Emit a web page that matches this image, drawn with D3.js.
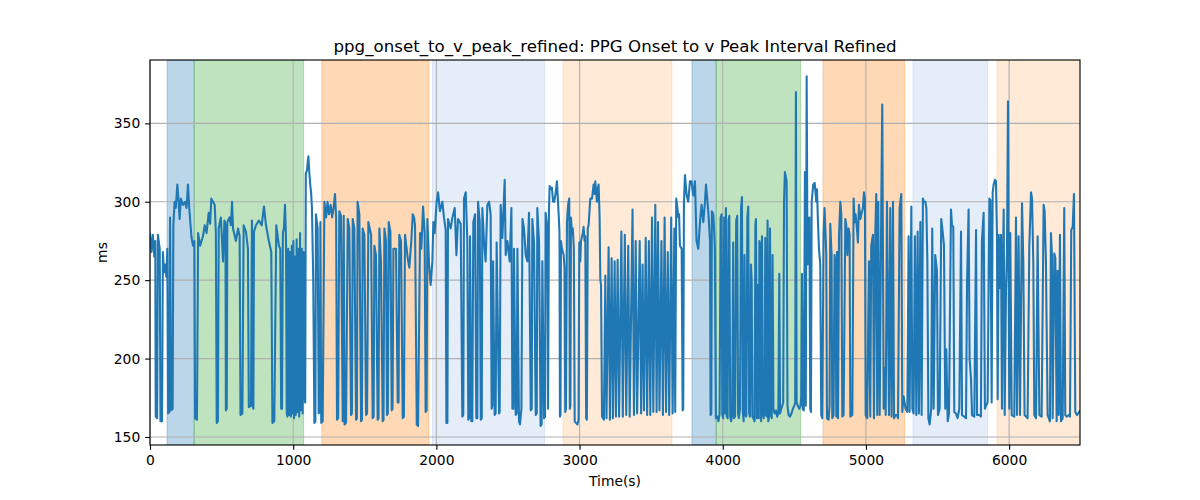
<!DOCTYPE html>
<html>
<head>
<meta charset="utf-8">
<script src="https://cdn.jsdelivr.net/npm/d3@7"></script>
<style>
  html, body { margin: 0; padding: 0; background: #fff; }
  svg { display: block; }
  text { font-family: "DejaVu Sans", sans-serif; fill: #000; }
</style>
</head>
<body>
<svg id="chart" width="1200" height="500"></svg>
<script>
// ---- data ----
const chartTitle = "ppg_onset_to_v_peak_refined: PPG Onset to v Peak Interval Refined";
const xLabel = "Time(s)";
const yLabel = "ms";
const xTicks = [0, 1000, 2000, 3000, 4000, 5000, 6000];
const yTicks = [150, 200, 250, 300, 350];

const bandStart = [119, 308, 1200, 1973, 2884, 3785, 3954, 4700, 5328, 5915];
const bandEnd   = [308, 1073, 1948, 2756, 3645, 3954, 4544, 5270, 5850, 6495];
const bandColor = ["#1f77b4", "#2ca02c", "#ff7f0e", "#7ea6e0", "#ff7f0e",
                   "#1f77b4", "#2ca02c", "#ff7f0e", "#7ea6e0", "#ff7f0e"];
const bandAlpha = [0.3, 0.3, 0.3, 0.2, 0.16, 0.3, 0.3, 0.3, 0.2, 0.16];

const timeSec = [
0,10,20,30,37,40,50,55,68,73,84,90,98,108,114,121,127,135,140,148,158,163,172,180,191,200,207,215,230,245,255,265,275,289,300,310,315,328,336,350,370,382,395,410,420,428,440,452,460,466,474,480,495,510,520,527,530,536,540,555,565,573,580,600,615,626,632,645,654,670,684,690,705,712,716,722,726,740,760,780,796,810,830,847,855,868,882,900,910,916,922,928,935,943,950,
955,960,965,972,978,984,990,996,1001,1006,1012,1018,1024,1030,1036,1042,1048,1054,1060,1066,1072,1078,1084,1088,1096,1106,1113,1120,1125,1131,1140,1148,1155,1159,1171,1178,1186,1190,1196,1206,1218,1230,1240,1250,1262,1272,1282,1292,1300,1306,1314,1322,1334,1346,1353,1359,1369,1381,1392,1404,1410,1416,1427,1439,1445,1450,1462,1474,1480,1485,1497,1509,1516,1525,1544,1555,1562,1567,1578,1590,1596,1602,1613,1625,1631,1637,1648,1655,1661,1667,1679,1688,1694,1700,1718,1730,1736,1741,1753,1765,1773,1781,1800,1811,1825,1835,
1844,1851,1863,1872,1886,1895,1907,1918,1925,1932,1937,1949,1960,1972,1979,1988,2002,2012,2025,2042,2053,2065,2070,2077,2081,2100,2112,2128,2140,2151,2170,2181,2188,2193,2205,2216,2223,2230,2235,2244,2251,2258,2270,2279,2286,2291,2303,2310,2317,2321,2333,2344,2356,2368,2379,2386,2391,2396,2407,2414,2421,2438,2442,2449,2461,2477,2484,2496,2512,2524,2531,2538,2542,2554,2561,2566,2577,2584,2594,2601,2612,2624,2635,2647,2659,2666,2670,2682,2694,2701,2705,2717,2728,2735,2740,2752,2759,2763,2775,
2780,2786,2791,2800,2807,2815,2823,2832,2842,2854,2860,2863,2867,2870,2877,2889,2895,2900,2905,2912,2918,2923,2928,2932,2936,2940,2947,2953,2960,2966,2975,2985,2993,2998,3005,3010,3017,3023,3028,3035,3040,3046,3051,3057,3063,3075,3087,3098,3105,3110,3121,3127,3133,3140,3145,
3150,3157,3170,3180,3188,3203,3212,3224,3233,3245,3254,3266,3276,3292,3302,3316,3326,3340,3350,3370,3380,3392,3402,3420,3430,3440,3450,3462,3472,3484,3494,3506,3515,3529,3538,3548,3558,3572,3582,3594,3604,3616,3626,3640,3650,3662,3668,3675,3682,3690,3695,
3701,3713,3720,3724,3729,3736,3748,3759,3771,3782,3794,3806,3817,3829,3841,3852,3864,3876,3883,3899,3911,3915,3920,3924,3934,3941,3945,3952,3962,
3970,3978,3985,3992,3997,4003,4010,4016,4022,4028,4034,4040,4046,4052,4058,4066,4073,4078,4086,4094,4101,4107,4113,4120,4128,4134,4140,4146,4152,4158,4164,4172,4178,4184,4190,4197,4202,4207,4214,4222,4228,4232,4238,4244,4248,4252,4256,4262,4268,4274,4280,4286,4292,4297,4302,4308,4313,4318,4324,4330,4336,4342,4348,4354,4362,4372,4380,4388,4395,4400,4408,4416,4422,4428,4434,4446,4452,4460,4470,4480,4490,4500,4506,4511,4516,4524,4534,4543,4548,4553,4558,4566,4574,4580,4586,4592,4597,4605,4611,4616,4621,4632,
4642,4653,4658,4665,4672,4681,4688,4695,4704,4711,4718,4723,4728,4739,4746,4751,4760,4765,4774,4781,4788,4793,4798,4805,4812,4821,4828,4835,4844,4856,4863,4870,4879,4886,4891,4905,4914,4921,4928,4937,4944,4951,4961,4968,4979,4986,4993,4998,5009,5021,5030,5037,5049,5056,5065,5072,5079,5086,5096,5107,5114,5124,5131,5138,5147,5161,5170,5179,5189,5196,5207,5217,5224,5235,5247,5254,5263,5277,5289,5298,5305,5317,5324,5333,5342,5352,5361,5370,5380,5389,5398,5405,5415,5422,5429,5436,5445,5456,5463,5473,5484,5496,5503,5515,5526,5538,5545,5554,
5561,5571,5580,5594,5601,5610,5617,5629,5640,5652,5664,5671,5687,5699,5706,5717,5724,5734,5741,5757,5769,5776,5792,5803,5810,5822,5831,5838,5850,5862,5869,5878,5885,5892,5901,5908,5915,5920,5927,5936,5943,5950,5955,5962,5969,5978,5985,5992,6001,6008,6018,6036,6048,6055,6066,6076,6090,6099,6108,6129,6141,6153,6160,6169,6176,6188,6199,6211,6227,6241,6248,6257,6269,6285,6292,6299,6304,6316,6323,6332,6339,6346,6355,6362,6374,6385,6392,6402,6416,6425,6434,6444,6453,6462,6474,6490,6495
];

const intervalMs = [
280,268,279,265,275,163,162,279,270,160,160,268,255,260,252,270,165,166,290,167,168,285,300,296,311,300,289,302,298,300,296,311,295,278,272,275,162,161,280,272,278,285,280,293,286,302,300,298,280,159,160,283,290,262,288,285,167,168,287,290,285,300,283,275,283,278,164,165,285,281,270,169,170,288,170,168,281,285,288,285,297,285,275,268,159,160,285,272,270,168,168,280,283,298,275,
165,163,270,164,268,163,272,165,275,162,265,164,276,166,270,163,280,167,270,165,268,176,172,318,320,329,318,310,306,296,250,159,160,292,283,165,166,287,159,160,300,290,300,292,298,290,296,305,290,161,162,294,291,160,291,158,159,289,283,164,165,289,283,161,162,300,292,160,161,283,279,164,165,287,279,162,163,272,266,161,162,283,262,160,161,283,275,164,165,287,281,167,168,270,270,172,172,279,275,162,163,279,264,258,275,292,
290,285,158,157,280,270,297,280,166,167,289,260,247,262,287,280,300,306,294,300,290,282,159,159,289,283,290,296,266,289,286,163,164,302,306,275,161,162,278,160,160,287,292,162,162,300,287,161,162,296,274,262,298,300,292,168,170,262,164,165,274,165,166,298,277,314,266,275,262,296,168,168,270,164,165,270,160,158,168,289,283,266,262,293,167,168,289,274,164,165,296,274,157,158,262,162,163,293,283,
168,293,310,308,309,300,300,305,313,292,280,163,164,275,270,266,258,166,168,287,296,300,302,168,170,290,280,283,270,160,159,158,161,274,262,275,278,280,284,275,278,162,161,283,285,302,302,311,305,313,300,308,311,290,250,
247,163,161,253,162,271,161,264,162,262,163,263,163,281,163,279,164,272,163,295,164,275,165,275,165,260,167,277,164,275,164,290,166,298,166,287,167,275,164,290,166,268,164,290,165,283,166,302,297,290,292,
272,270,167,168,300,317,304,300,313,313,304,313,275,270,287,298,287,300,311,294,275,164,165,294,292,279,270,162,163,
160,165,290,292,164,162,290,165,296,163,162,288,291,163,160,165,274,162,163,288,291,165,162,168,296,303,166,160,266,164,163,290,297,165,163,260,250,163,162,160,285,289,162,163,247,162,275,272,160,278,165,162,168,277,164,163,288,160,163,283,165,162,266,168,165,167,163,165,254,165,168,170,172,300,319,313,170,164,163,165,168,170,172,370,172,170,168,170,175,254,168,167,319,170,380,260,287,290,168,166,300,311,
312,300,308,287,270,260,164,162,280,296,279,266,162,161,170,286,266,162,164,266,258,163,268,162,279,300,292,163,164,289,285,266,283,279,163,164,302,287,292,283,274,298,289,292,296,306,302,164,162,262,163,272,279,162,279,305,164,300,164,296,362,168,194,164,300,164,296,163,300,162,164,164,162,296,305,166,176,168,166,278,166,297,168,165,278,164,281,165,287,164,302,300,300,296,262,162,158,168,283,168,266,256,164,168,289,279,272,168,
206,160,165,295,285,284,166,165,162,168,281,164,163,162,248,295,200,187,164,163,282,164,164,163,275,293,168,170,172,302,301,172,306,311,314,313,279,174,279,245,279,168,253,295,164,243,266,364,168,280,164,163,290,164,278,164,299,262,164,162,272,306,302,261,164,162,278,164,163,298,294,262,164,160,280,266,162,267,264,160,256,164,279,160,162,296,164,163,164,163,282,284,305,166,164,166,167
];

// ---- layout (matplotlib defaults for a 12x5 in figure at 100 dpi) ----
const m = { left: 150, right: 1080, top: 60, bottom: 445 };
const PT = 100 / 72;

const svg = d3.select("#chart");

const x = d3.scaleLinear().domain([0, 6495]).range([m.left, m.right]);
const y = d3.scaleLinear().domain([144.9, 390.4]).range([m.bottom, m.top]);

svg.append("defs").append("clipPath").attr("id", "plotClip")
  .append("rect").attr("x", m.left).attr("y", m.top)
  .attr("width", m.right - m.left).attr("height", m.bottom - m.top);

// background bands (axvspan-like: translucent fill and edge)
const bands = bandStart.map((s, i) => ({ s, e: bandEnd[i], c: bandColor[i], a: bandAlpha[i] }));
svg.append("g").attr("clip-path", "url(#plotClip)")
  .selectAll("rect").data(bands).join("rect")
  .attr("x", d => x(d.s)).attr("y", y.range()[1])
  .attr("width", d => x(d.e) - x(d.s))
  .attr("height", y.range()[0] - y.range()[1])
  .attr("fill", d => d.c).attr("fill-opacity", d => d.a)
  .attr("stroke", d => d.c).attr("stroke-opacity", d => d.a)
  .attr("stroke-width", 1);

// grid
const grid = svg.append("g").attr("stroke", "#b0b0b0").attr("stroke-width", 0.8 * PT);
grid.selectAll("line.gx").data(xTicks).join("line").attr("class", "gx")
  .attr("x1", d => x(d)).attr("x2", d => x(d))
  .attr("y1", m.top).attr("y2", m.bottom);
grid.selectAll("line.gy").data(yTicks).join("line").attr("class", "gy")
  .attr("x1", m.left).attr("x2", m.right)
  .attr("y1", d => y(d)).attr("y2", d => y(d));

// line
const n = Math.min(timeSec.length, intervalMs.length);
const pts = d3.range(n).map(i => [timeSec[i], intervalMs[i]]);
const line = d3.line().defined(d => d[1] != null).x(d => x(d[0])).y(d => y(d[1]));
svg.append("path").datum(pts)
  .attr("clip-path", "url(#plotClip)")
  .attr("fill", "none").attr("stroke", "#1f77b4")
  .attr("stroke-width", 1.5 * PT)
  .attr("stroke-linejoin", "round").attr("stroke-linecap", "butt")
  .attr("d", line);

// axes
const xAxis = d3.axisBottom(x).tickValues(xTicks).tickFormat(d3.format("d"))
  .tickSize(3.5 * PT).tickPadding(3.5 * PT);
const yAxis = d3.axisLeft(y).tickValues(yTicks).tickFormat(d3.format("d"))
  .tickSize(3.5 * PT).tickPadding(3.5 * PT);

const gx = svg.append("g").attr("transform", `translate(0,${m.bottom})`).call(xAxis);
const gy = svg.append("g").attr("transform", `translate(${m.left},0)`).call(yAxis);
[gx, gy].forEach(g => {
  g.select(".domain").remove();
  g.selectAll(".tick line").attr("stroke", "#000").attr("stroke-width", 0.8 * PT);
  g.selectAll(".tick text").attr("font-family", "DejaVu Sans")
    .attr("font-size", 10 * PT).attr("fill", "#000");
});

// spines
svg.append("rect")
  .attr("x", m.left).attr("y", m.top)
  .attr("width", m.right - m.left).attr("height", m.bottom - m.top)
  .attr("fill", "none").attr("stroke", "#000").attr("stroke-width", 0.8 * PT);

// title and labels
svg.append("text").attr("x", (m.left + m.right) / 2).attr("y", 51.7)
  .attr("text-anchor", "middle").attr("font-size", 12 * PT).text(chartTitle);
svg.append("text").attr("x", (m.left + m.right) / 2).attr("y", 486)
  .attr("text-anchor", "middle").attr("font-size", 10 * PT).text(xLabel);
svg.append("text")
  .attr("transform", `translate(107,${(m.top + m.bottom) / 2}) rotate(-90)`)
  .attr("text-anchor", "middle").attr("font-size", 10 * PT).text(yLabel);
</script>
</body>
</html>
